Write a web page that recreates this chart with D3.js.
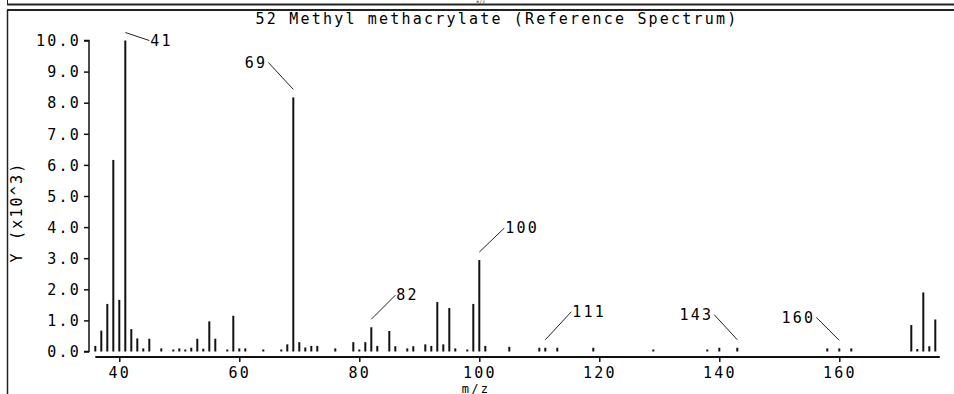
<!DOCTYPE html>
<html><head><meta charset="utf-8">
<script src="https://cdn.jsdelivr.net/npm/d3@7"></script>
<style>
html,body{margin:0;padding:0;background:#fff;}
svg{display:block;}
text{font-family:"DejaVu Sans Mono","Liberation Mono",monospace;font-size:15px;letter-spacing:2.2px;fill:#000;}
</style></head><body>
<script>
// ---- data ----
const title = "52 Methyl methacrylate (Reference Spectrum)";
const xLabel = "m/z";
const yLabel = "Y (x10^3)";
const mz = [36,37,38,39,40,41,42,43,44,45,47,49,50,51,52,53,54,55,56,58,59,60,61,64,67,68,69,70,71,72,73,76,79,80,81,82,83,85,86,88,89,91,92,93,94,95,96,98,99,100,101,105,110,111,113,119,129,138,140,143,158,160,162,172,173,174,175,176];
const intensity = [0.18,0.67,1.53,6.16,1.66,10.0,0.72,0.42,0.10,0.41,0.10,0.05,0.10,0.05,0.12,0.41,0.09,0.97,0.41,0.04,1.15,0.10,0.10,0.06,0.05,0.23,8.17,0.30,0.13,0.18,0.18,0.10,0.30,0.05,0.30,0.78,0.18,0.66,0.17,0.10,0.17,0.23,0.18,1.59,0.23,1.40,0.10,0.05,1.53,2.94,0.18,0.15,0.12,0.12,0.12,0.12,0.05,0.05,0.12,0.12,0.10,0.10,0.10,0.85,0.08,1.90,0.17,1.03];
const xTicks = [40,60,80,100,120,140,160];
const yTicks = [0,1,2,3,4,5,6,7,8,9,10];
const annotated = [41,69,82,100,111,143,160];

// ---- layout (style) ----
const W = 954, H = 394;
const annLayout = {41:{dx:24,dy:8,anchor:"start"},69:{dx:-25,dy:-27,anchor:"end"},82:{dx:24,dy:-24,anchor:"start"},100:{dx:25,dy:-24,anchor:"start"},111:{dx:26,dy:-28,anchor:"start"},143:{dx:-23,dy:-25,anchor:"end"},160:{dx:-23,dy:-23,anchor:"end"}};

const svg = d3.select("body").append("svg").attr("width",W).attr("height",H);

const x = d3.scaleLinear().domain([36,176.75]).range([95.3,939.8]);
const y = d3.scaleLinear().domain([0,10]).range([351.5,40.5]);

// frame
const frame = svg.append("g").attr("stroke","#222").attr("fill","none");
frame.append("line").attr("x1",7.5).attr("x2",7.5).attr("y1",0).attr("y2",5);
frame.append("line").attr("x1",7).attr("x2",W).attr("y1",4.5).attr("y2",4.5).attr("stroke-width",2);
frame.append("line").attr("x1",7).attr("x2",W).attr("y1",10).attr("y2",10).attr("stroke-width",2);
frame.append("line").attr("x1",7.5).attr("x2",7.5).attr("y1",10).attr("y2",H).attr("stroke-width",1.5);

// remnant of the previous panel's x label (tiny, inside the top strip)
svg.append("text").attr("x",481).attr("y",3.2).attr("text-anchor","middle")
  .style("font-size","4px").style("letter-spacing","0.6px").text(xLabel);

// title
svg.append("text").attr("x",497).attr("y",24).attr("text-anchor","middle").text(title);

// y axis
const yAxis = d3.axisLeft(y).tickValues(yTicks).tickFormat(d3.format(".1f")).tickSize(5).tickPadding(3);
const gy = svg.append("g").attr("transform","translate(89,0)").call(yAxis);
gy.select(".domain").attr("stroke","#111").attr("stroke-width",1.5).attr("d",`M-5,${y(10)}H0V${y(0)}H-5`);
gy.selectAll(".tick line").attr("stroke","#111").attr("stroke-width",1.5);
gy.selectAll(".tick text").attr("font-family",null).attr("font-size",null).attr("dy","0.35em");

// x axis
const xAxis = d3.axisBottom(x).tickValues(xTicks).tickSize(5).tickPadding(5);
const gx = svg.append("g").attr("transform","translate(0,357)").call(xAxis);
gx.select(".domain").attr("stroke","#111").attr("stroke-width",2).attr("d",`M${x(36)},0H${x(176.75)}`);
gx.selectAll(".tick line").attr("stroke","#111").attr("stroke-width",1.5);
gx.selectAll(".tick text").attr("font-family",null).attr("font-size",null);

svg.append("text").attr("x",476).attr("y",392.5).attr("text-anchor","middle").style("font-size","12px").text(xLabel);
svg.append("text").attr("transform","translate(22,212) rotate(-90)").attr("text-anchor","middle").text(yLabel);

// bars
svg.append("g").selectAll("line").data(mz).join("line")
  .attr("x1",d=>x(d)).attr("x2",d=>x(d))
  .attr("y1",y(0)).attr("y2",(d,i)=>Math.min(y(intensity[i]), y(0)-2))
  .attr("stroke","#111").attr("stroke-width",2);

// annotations
const ann = svg.append("g");
annotated.forEach(m=>{
  const i = mz.indexOf(m);
  const px = x(m), py = y(intensity[i]) - 8;
  const L = annLayout[m];
  ann.append("line").attr("x1",px).attr("y1",py).attr("x2",px+L.dx).attr("y2",py+L.dy)
    .attr("stroke","#222").attr("stroke-width",1);
  ann.append("text").attr("x",px+L.dx+(L.anchor==="start"?1:-1)).attr("y",py+L.dy).attr("dy","0.35em")
    .attr("text-anchor",L.anchor).text(m);
});
</script>
</body></html>
